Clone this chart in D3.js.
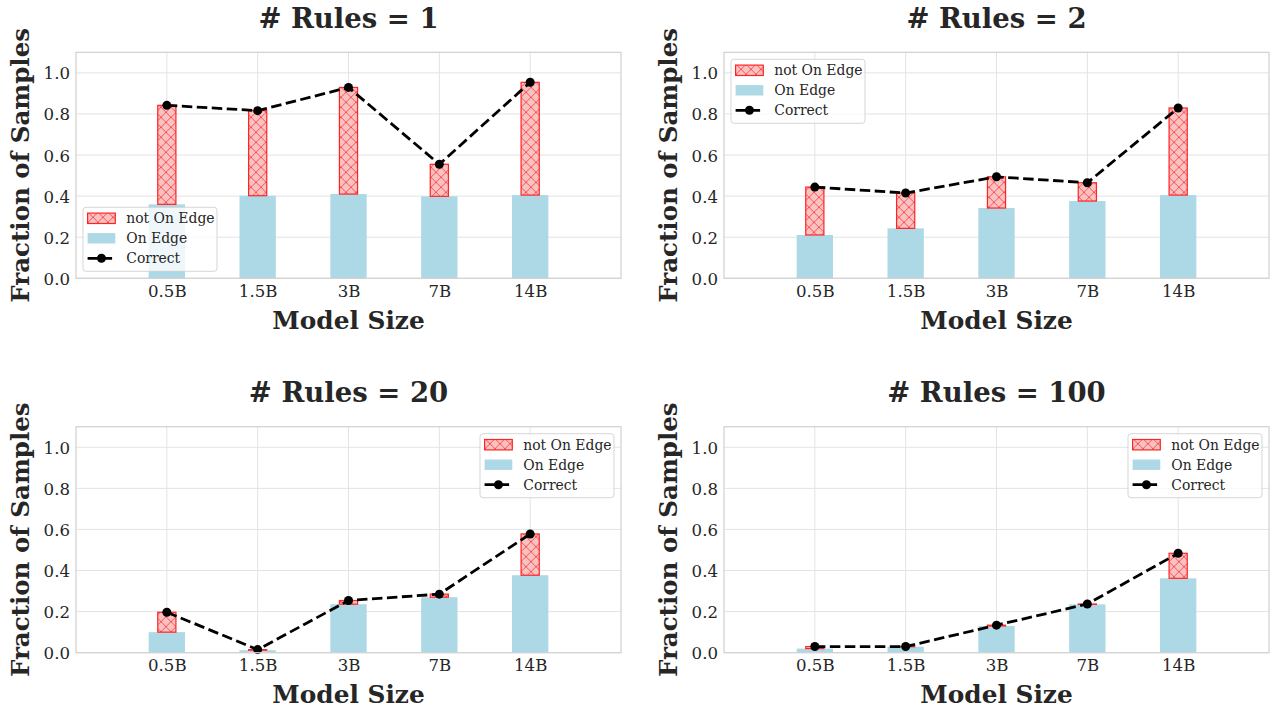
<!DOCTYPE html>
<html>
<head>
<meta charset="utf-8">
<script src="https://cdn.jsdelivr.net/npm/d3@7/dist/d3.min.js"></script>
<style>
  html, body { margin: 0; padding: 0; background: #ffffff; }
  svg { display: block; }
  text { font-family: "DejaVu Serif", serif; fill: #262626; }
</style>
</head>
<body>
<svg id="chart" width="1280" height="720"></svg>
<script>
// ---------------- data ----------------
const categories = ["0.5B", "1.5B", "3B", "7B", "14B"];
const panelTitles = ["# Rules = 1", "# Rules = 2", "# Rules = 20", "# Rules = 100"];
const yTicks = [0.0, 0.2, 0.4, 0.6, 0.8, 1.0];
const legendLabels = ["not On Edge", "On Edge", "Correct"];

const onEdgeRules1 = [0.360, 0.402, 0.410, 0.399, 0.405];
const correctRules1 = [0.842, 0.816, 0.929, 0.555, 0.954];

const onEdgeRules2 = [0.211, 0.243, 0.342, 0.376, 0.405];
const correctRules2 = [0.444, 0.415, 0.494, 0.465, 0.829];

const onEdgeRules20 = [0.100, 0.012, 0.236, 0.270, 0.377];
const correctRules20 = [0.197, 0.015, 0.254, 0.285, 0.578];

const onEdgeRules100 = [0.020, 0.029, 0.130, 0.235, 0.362];
const correctRules100 = [0.030, 0.030, 0.134, 0.237, 0.484];

// ---------------- layout ----------------
const panels = [
  { title: panelTitles[0], onEdge: onEdgeRules1, correct: correctRules1, x0: 76, y0: 52.3, legend: "lower left" },
  { title: panelTitles[1], onEdge: onEdgeRules2, correct: correctRules2, x0: 724, y0: 52.3, legend: "upper left" },
  { title: panelTitles[2], onEdge: onEdgeRules20, correct: correctRules20, x0: 76, y0: 426.7, legend: "upper right" },
  { title: panelTitles[3], onEdge: onEdgeRules100, correct: correctRules100, x0: 724, y0: 426.7, legend: "upper right" }
];
const W = 545, H = 226;

const svg = d3.select("#chart");
const defs = svg.append("defs");
const pat = defs.append("pattern")
  .attr("id", "hatch").attr("patternUnits", "userSpaceOnUse")
  .attr("width", 10).attr("height", 10);
pat.append("rect").attr("width", 10).attr("height", 10).attr("fill", "#f8c2c2");
pat.append("path").attr("d", "M-1,-1 L11,11 M-1,11 L11,-1")
  .attr("stroke", "#ff5050").attr("stroke-width", 1).attr("fill", "none");

panels.forEach(p => {
  const g = svg.append("g").attr("transform", `translate(${p.x0},${p.y0})`);
  const x = d3.scalePoint().domain(categories).range([0, W]).padding(1);
  const y = d3.scaleLinear().domain([0, 1.1]).range([H, 0]);
  const step = x.step();

  // grid
  g.append("g").selectAll("line.hg").data(yTicks).join("line")
    .attr("x1", 0).attr("x2", W).attr("y1", d => y(d)).attr("y2", d => y(d))
    .attr("stroke", "#e3e3e3").attr("stroke-width", 1);
  g.append("g").selectAll("line.vg").data(categories).join("line")
    .attr("x1", d => x(d)).attr("x2", d => x(d)).attr("y1", 0).attr("y2", H)
    .attr("stroke", "#e3e3e3").attr("stroke-width", 1);

  // blue bars
  g.append("g").selectAll("rect").data(categories).join("rect")
    .attr("x", d => x(d) - 0.2 * step)
    .attr("width", 0.4 * step)
    .attr("y", (d, i) => y(p.onEdge[i]))
    .attr("height", (d, i) => y(0) - y(p.onEdge[i]))
    .attr("fill", "#add8e6");

  // red hatched bars
  g.append("g").selectAll("rect").data(categories).join("rect")
    .attr("x", d => x(d) - 0.1 * step)
    .attr("width", 0.2 * step)
    .attr("y", (d, i) => y(p.correct[i]))
    .attr("height", (d, i) => Math.max(0, y(p.onEdge[i]) - y(p.correct[i])))
    .attr("fill", "url(#hatch)")
    .attr("stroke", "#ff2424").attr("stroke-width", 1.2);

  // correct line
  const line = d3.line().x((d, i) => x(categories[i])).y(d => y(d));
  g.append("path").datum(p.correct).attr("d", line)
    .attr("fill", "none").attr("stroke", "#000").attr("stroke-width", 2.8)
    .attr("stroke-dasharray", "10.5,4.5");
  g.append("g").selectAll("circle").data(p.correct).join("circle")
    .attr("cx", (d, i) => x(categories[i])).attr("cy", d => y(d)).attr("r", 4.5)
    .attr("fill", "#000");

  // spines
  g.append("rect").attr("x", 0).attr("y", 0).attr("width", W).attr("height", H)
    .attr("fill", "none").attr("stroke", "#d2d2d2").attr("stroke-width", 1.25);

  // axes (labels only)
  const xa = g.append("g").attr("transform", `translate(0,${H})`)
    .call(d3.axisBottom(x).tickSize(0).tickPadding(0));
  xa.select(".domain").remove();
  xa.selectAll("text").attr("dy", null).attr("y", 18.5)
    .style("font-family", "DejaVu Serif").style("font-size", "16.6px").attr("fill", "#262626");

  const ya = g.append("g")
    .call(d3.axisLeft(y).tickValues(yTicks).tickFormat(d3.format(".1f")).tickSize(0).tickPadding(6));
  ya.select(".domain").remove();
  ya.selectAll("text").attr("dy", "0.36em")
    .style("font-family", "DejaVu Serif").style("font-size", "16.6px").attr("fill", "#262626");

  // titles
  g.append("text").attr("x", W / 2).attr("y", -24.3).attr("text-anchor", "middle")
    .style("font-size", "27.5px").style("font-weight", "bold").text(p.title);
  g.append("text").attr("x", W / 2).attr("y", H + 50.8).attr("text-anchor", "middle")
    .style("font-size", "24.8px").style("font-weight", "bold").text("Model Size");
  g.append("text").attr("transform", `translate(${-47.5},${H / 2}) rotate(-90)`)
    .attr("text-anchor", "middle")
    .style("font-size", "24.5px").style("font-weight", "bold").text("Fraction of Samples");

  // legend
  const lw = 134, lh = 64, pad = 7;
  let lx, ly;
  if (p.legend === "lower left") { lx = pad; ly = H - pad - lh; }
  else if (p.legend === "upper left") { lx = pad; ly = pad; }
  else { lx = W - pad - lw; ly = pad; }
  const lg = g.append("g").attr("transform", `translate(${lx},${ly})`);
  lg.append("rect").attr("width", lw).attr("height", lh).attr("rx", 3)
    .attr("fill", "rgba(255,255,255,0.8)").attr("stroke", "rgba(204,204,204,0.8)").attr("stroke-width", 1);
  const rows = [11, 31, 51];
  lg.append("rect").attr("x", 4.6).attr("y", rows[0] - 5.2).attr("width", 27.7).attr("height", 10.4)
    .attr("fill", "url(#hatch)").attr("stroke", "#ff2424").attr("stroke-width", 1.2);
  lg.append("rect").attr("x", 4.6).attr("y", rows[1] - 5.2).attr("width", 27.7).attr("height", 10.4)
    .attr("fill", "#add8e6");
  lg.append("line").attr("x1", 4.6).attr("x2", 32.3).attr("y1", rows[2]).attr("y2", rows[2])
    .attr("stroke", "#000").attr("stroke-width", 2.8).attr("stroke-dasharray", "10,4.5");
  lg.append("circle").attr("cx", 18.45).attr("cy", rows[2]).attr("r", 4.5).attr("fill", "#000");
  lg.selectAll("text.lt").data(legendLabels).join("text")
    .attr("x", 43.3).attr("y", (d, i) => rows[i]).attr("dy", "0.36em")
    .style("font-size", "13.9px").text(d => d);
});
</script>
</body>
</html>
